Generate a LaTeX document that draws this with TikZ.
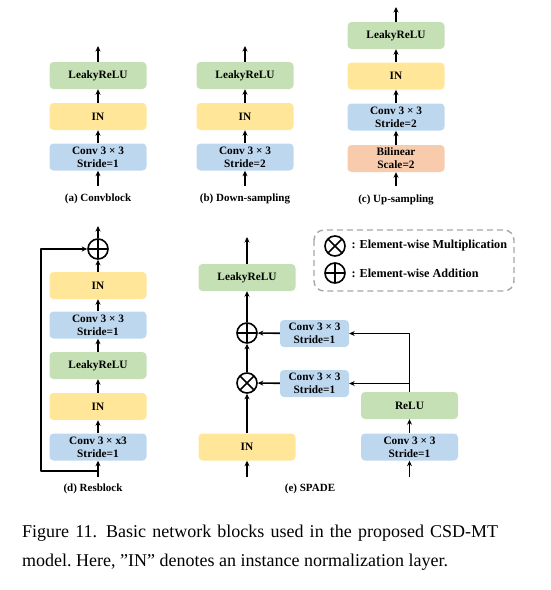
\documentclass[tikz,border=0pt]{standalone}
\usepackage{fontspec}
\setmainfont{Liberation Serif}
\usetikzlibrary{arrows.meta}
\definecolor{cgreen}{HTML}{C5E0B4}
\definecolor{cyellow}{HTML}{FFE699}
\definecolor{cblue}{HTML}{BDD7EE}
\definecolor{corange}{HTML}{F8CBAD}
\begin{document}
\begin{tikzpicture}[x=1pt,y=-1pt, line join=round, >={Stealth[length=5.5pt,width=5pt]},
    blk/.style={rounded corners=4pt, minimum width=97pt, minimum height=27pt, inner sep=0pt,
        align=center, font=\bfseries\fontsize{11.3}{13}\selectfont},
    nblk/.style={blk, minimum width=69pt},
    lbl/.style={font=\bfseries\fontsize{11}{13}\selectfont},
    opl/.style={circle, draw, line width=1.6pt, minimum size=20pt, inner sep=0pt,
        path picture={\draw[line width=1.6pt] (path picture bounding box.north) -- (path picture bounding box.south)
            (path picture bounding box.west) -- (path picture bounding box.east);}},
    otm/.style={circle, draw, line width=1.6pt, minimum size=20pt, inner sep=0pt,
        path picture={\draw[line width=1.6pt] (path picture bounding box.north west) -- (path picture bounding box.south east)
            (path picture bounding box.south west) -- (path picture bounding box.north east);}},
    ar/.style={->, line width=1.6pt}]
    \useasboundingbox (0,0) rectangle (550,590);
    % (a) convblock
    \node[blk, fill=cgreen] (a3) at (98,75.5) {LeakyReLU};
    \node[blk, fill=cyellow] (a2) at (98,116.5) {IN};
    \node[blk, fill=cblue] (a1) at (98,157) {Conv 3 × 3\\Stride=1};
    \coordinate (ain) at (98,186);
    \coordinate (aout) at (98,46);
    \draw[ar] (ain) -- (a1); \draw[ar] (a1) -- (a2); \draw[ar] (a2) -- (a3); \draw[ar] (a3) -- (aout);
    \node[lbl] (alab) at (98,199) {(a) Convblock};
    % (b) down-sampling
    \node[blk, fill=cgreen] (b3) at (245,75.5) {LeakyReLU};
    \node[blk, fill=cyellow] (b2) at (245,116.5) {IN};
    \node[blk, fill=cblue] (b1) at (245,157) {Conv 3 × 3\\Stride=2};
    \coordinate (bin) at (245,186);
    \coordinate (bout) at (245,46);
    \draw[ar] (bin) -- (b1); \draw[ar] (b1) -- (b2); \draw[ar] (b2) -- (b3); \draw[ar] (b3) -- (bout);
    \node[lbl] (blab) at (245,199) {(b) Down-sampling};
    % (c) up-sampling
    \node[blk, fill=cgreen] (c4) at (396,35.5) {LeakyReLU};
    \node[blk, fill=cyellow] (c3) at (396,76) {IN};
    \node[blk, fill=cblue] (c2) at (396,117) {Conv 3 × 3\\Stride=2};
    \node[blk, fill=corange] (c1) at (396,158.5) {Bilinear\\Scale=2};
    \coordinate (cin) at (396,186);
    \coordinate (cout) at (396,7);
    \draw[ar] (cin) -- (c1); \draw[ar] (c1) -- (c2); \draw[ar] (c2) -- (c3); \draw[ar] (c3) -- (c4); \draw[ar] (c4) -- (cout);
    \node[lbl] (clab) at (396,200) {(c) Up-sampling};
    % (d) resblock
    \node[opl] (dadd) at (98,249) {};
    \node[blk, fill=cyellow] (d5) at (98,285.5) {IN};
    \node[blk, fill=cblue] (d4) at (98,325) {Conv 3 × 3\\Stride=1};
    \node[blk, fill=cgreen] (d3) at (98,365.5) {LeakyReLU};
    \node[blk, fill=cyellow] (d2) at (98,406.5) {IN};
    \node[blk, fill=cblue] (d1) at (98,447) {Conv 3 × x3\\Stride=1};
    \coordinate (din) at (98,477);
    \coordinate (dsplit) at (98,471);
    \coordinate (dout) at (98,226);
    \draw[ar] (din) -- (d1); \draw[ar] (d1) -- (d2); \draw[ar] (d2) -- (d3); \draw[ar] (d3) -- (d4);
    \draw[ar] (d4) -- (d5); \draw[ar] (d5) -- (dadd); \draw[ar] (dadd) -- (dout);
    \draw[ar] (dsplit) -- (41,471) -- (41,249) -- (dadd);
    \node[lbl] (dlab) at (93,489) {(d) Resblock};
    % (e) spade
    \node[blk, fill=cgreen] (elr) at (247,277.5) {LeakyReLU};
    \node[opl] (eadd) at (247,333) {};
    \node[otm] (emul) at (247,383) {};
    \node[blk, fill=cyellow] (ein) at (247,447) {IN};
    \node[nblk, fill=cblue] (ecb) at (314.5,333.5) {Conv 3 × 3\\Stride=1};
    \node[nblk, fill=cblue] (ecg) at (314.5,383.5) {Conv 3 × 3\\Stride=1};
    \node[blk, fill=cgreen] (erelu) at (409.5,405.5) {ReLU};
    \node[blk, fill=cblue] (econv) at (409.5,447) {Conv 3 × 3\\Stride=1};
    \coordinate (ein1) at (247,477);
    \coordinate (ein2) at (409.5,477);
    \coordinate (eout) at (247,237);
    \coordinate (ejoin) at (409.5,383.5);
    \draw[ar] (ein1) -- (ein); \draw[ar] (ein) -- (emul); \draw[ar] (emul) -- (eadd);
    \draw[ar] (eadd) -- (elr); \draw[ar] (elr) -- (eout);
    \draw[ar] (ecb) -- (eadd); \draw[ar] (ecg) -- (emul);
    \draw[ar] (ein2) -- (econv); \draw[ar] (econv) -- (erelu);
    \draw[ar] (erelu) -- (409.5,333.5) -- (ecb);
    \draw[ar] (ejoin) -- (ecg);
    \node[lbl] (elab) at (310,489) {(e) SPADE};
    % legend
    \draw[dashed, dash pattern=on 6pt off 4pt, line width=1.4pt, gray!70, rounded corners=10pt] (314,230) rectangle (514,291);
    \node[otm] (lmul) at (335,246) {};
    \node[opl] (ladd) at (335,273) {};
    \node[lbl, anchor=west, font=\bfseries\fontsize{12.2}{14}\selectfont] (lmtxt) at (348,246) {: Element-wise Multiplication};
    \node[lbl, anchor=west, font=\bfseries\fontsize{12.2}{14}\selectfont] (latxt) at (348,273) {: Element-wise Addition};
    % caption
    \node[anchor=north west, align=left, inner sep=0pt, font=\frenchspacing\fontsize{18}{29}\selectfont] (cap) at (22,525)
        {\makebox[476pt][s]{Figure 11.\enspace Basic network blocks used in the proposed CSD-MT}\\model. Here, ''IN'' denotes an instance normalization layer.};
\end{tikzpicture}
\end{document}
